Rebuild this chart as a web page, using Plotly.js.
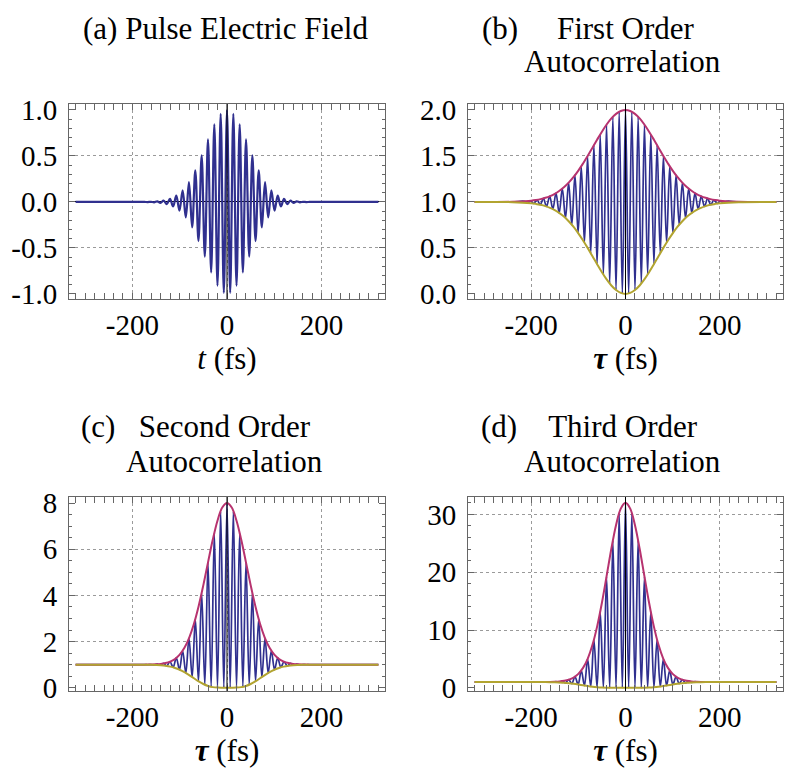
<!DOCTYPE html>
<html><head><meta charset="utf-8">
<script src="https://cdn.plot.ly/plotly-3.0.1.min.js"></script>
<style>html,body{margin:0;padding:0;background:#fff}#chart{width:800px;height:783px}</style>
</head><body><div id="chart"></div>
<script>
// fringe extrema delays (fs), shared by all four panels
const tauExtrema = [-320, -240, -214.4, -207.7, -201, -194.3, -187.6, -180.9, -174.2, -167.5, -160.8, -154.1, -147.4, -140.7, -134, -127.3, -120.6, -113.9, -107.2, -100.5, -93.8, -87.1, -80.4, -73.7, -67, -60.3, -53.6, -46.9, -40.2, -33.5, -26.8, -20.1, -13.4, -6.7, 0, 6.7, 13.4, 20.1, 26.8, 33.5, 40.2, 46.9, 53.6, 60.3, 67, 73.7, 80.4, 87.1, 93.8, 100.5, 107.2, 113.9, 120.6, 127.3, 134, 140.7, 147.4, 154.1, 160.8, 167.5, 174.2, 180.9, 187.6, 194.3, 201, 207.7, 214.4, 240, 320];

// (a) pulse electric field, value at each extremum
const fieldA = [0, 0, 0, 0, 0, 0, 0, 0, 0, -0.001, 0.002, -0.004, 0.006, -0.01, 0.015, -0.023, 0.033, -0.048, 0.068, -0.094, 0.126, -0.168, 0.215, -0.277, 0.345, -0.425, 0.507, -0.594, 0.68, -0.765, 0.845, -0.91, 0.958, -0.988, 1.0, -0.988, 0.958, -0.91, 0.845, -0.765, 0.68, -0.594, 0.507, -0.425, 0.345, -0.277, 0.215, -0.168, 0.126, -0.094, 0.068, -0.048, 0.033, -0.023, 0.015, -0.01, 0.006, -0.004, 0.002, -0.001, 0, 0, 0, 0, 0, 0, 0, 0, 0];

// (b) first order autocorrelation fringes
const fringeB = [1, 1, 1.007, 0.990, 1.013, 0.983, 1.023, 0.970, 1.038, 0.951, 1.062, 0.922, 1.097, 0.881, 1.145, 0.825, 1.209, 0.752, 1.291, 0.662, 1.388, 0.558, 1.499, 0.442, 1.617, 0.324, 1.734, 0.211, 1.840, 0.114, 1.926, 0.042, 1.981, 0.005, 2.0, 0.005, 1.981, 0.042, 1.926, 0.114, 1.840, 0.211, 1.734, 0.324, 1.617, 0.442, 1.499, 0.558, 1.388, 0.662, 1.291, 0.752, 1.209, 0.825, 1.145, 0.881, 1.097, 0.922, 1.062, 0.951, 1.038, 0.970, 1.023, 0.983, 1.013, 0.990, 1.007, 1, 1];

// (c) second order autocorrelation fringes
const fringeC = [1, 1, 1, 1, 1, 1, 1, 1, 1.002, 0.997, 1.006, 0.99, 1.02, 0.976, 1.053, 0.944, 1.129, 0.884, 1.291, 0.784, 1.603, 0.639, 2.143, 0.462, 2.974, 0.281, 4.102, 0.133, 5.421, 0.042, 6.704, 0.006, 7.65, 0.0, 8, 0.0, 7.65, 0.006, 6.704, 0.042, 5.421, 0.133, 4.102, 0.281, 2.974, 0.462, 2.143, 0.639, 1.603, 0.784, 1.291, 0.884, 1.129, 0.944, 1.053, 0.976, 1.02, 0.99, 1.006, 0.997, 1.002, 1, 1, 1, 1, 1, 1, 1, 1];

// (d) third order autocorrelation fringes
const fringeD = [1, 1, 1, 1, 1, 1, 1.003, 0.995, 1.01, 0.985, 1.027, 0.964, 1.069, 0.925, 1.171, 0.851, 1.41, 0.735, 1.93, 0.576, 3.0, 0.395, 4.99, 0.224, 8.31, 0.098, 13.18, 0.031, 19.25, 0.005, 25.47, 0, 30.21, 0, 32, 0, 30.21, 0, 25.47, 0.005, 19.25, 0.031, 13.18, 0.098, 8.31, 0.224, 4.99, 0.395, 3.0, 0.576, 1.93, 0.735, 1.41, 0.851, 1.171, 0.925, 1.069, 0.964, 1.027, 0.985, 1.01, 0.995, 1.003, 1, 1, 1, 1, 1, 1];

// envelope delays (fs)
const tauEnv = [-320, -240, -200, -190, -180, -170, -160, -150, -140, -130, -120, -110, -100, -90, -80, -70, -60, -50, -40, -30, -20, -10, 0, 10, 20, 30, 40, 50, 60, 70, 80, 90, 100, 110, 120, 130, 140, 150, 160, 170, 180, 190, 200, 240, 320];

const upperB = [1.0, 1.002, 1.014, 1.021, 1.031, 1.045, 1.064, 1.089, 1.122, 1.162, 1.213, 1.272, 1.341, 1.419, 1.502, 1.590, 1.679, 1.764, 1.842, 1.908, 1.958, 1.989, 2.0, 1.989, 1.958, 1.908, 1.842, 1.764, 1.679, 1.590, 1.502, 1.419, 1.341, 1.272, 1.213, 1.162, 1.122, 1.089, 1.064, 1.045, 1.031, 1.021, 1.014, 1.002, 1.0];
const lowerB = [1.0, 0.998, 0.986, 0.979, 0.969, 0.955, 0.936, 0.911, 0.878, 0.838, 0.787, 0.728, 0.659, 0.581, 0.498, 0.410, 0.321, 0.236, 0.158, 0.092, 0.042, 0.011, 0.0, 0.011, 0.042, 0.092, 0.158, 0.236, 0.321, 0.410, 0.498, 0.581, 0.659, 0.728, 0.787, 0.838, 0.878, 0.911, 0.936, 0.955, 0.969, 0.979, 0.986, 0.998, 1.0];

const upperC = [1, 1, 1, 1, 1.001, 1.003, 1.007, 1.016, 1.034, 1.069, 1.134, 1.247, 1.435, 1.730, 2.164, 2.761, 3.530, 4.445, 5.441, 6.416, 7.245, 7.803, 8, 7.803, 7.245, 6.416, 5.441, 4.445, 3.530, 2.761, 2.164, 1.730, 1.435, 1.247, 1.134, 1.069, 1.034, 1.016, 1.007, 1.003, 1.001, 1, 1, 1, 1];
const lowerC = [1, 1, 1, 1, 0.999, 0.997, 0.993, 0.986, 0.975, 0.953, 0.916, 0.859, 0.779, 0.674, 0.548, 0.411, 0.278, 0.163, 0.079, 0.028, 0.007, 0.001, 0, 0.001, 0.007, 0.028, 0.079, 0.163, 0.278, 0.411, 0.548, 0.674, 0.779, 0.859, 0.916, 0.953, 0.975, 0.986, 0.993, 0.997, 0.999, 1, 1, 1, 1];

const upperD = [1, 1, 1.001, 1.003, 1.006, 1.013, 1.028, 1.058, 1.114, 1.223, 1.425, 1.787, 2.413, 3.448, 5.063, 7.435, 10.67, 14.72, 19.35, 24.05, 28.17, 30.99, 32, 30.99, 28.17, 24.05, 19.35, 14.72, 10.67, 7.435, 5.063, 3.448, 2.413, 1.787, 1.425, 1.223, 1.114, 1.058, 1.028, 1.013, 1.006, 1.003, 1.001, 1, 1];
const lowerD = [1, 1, 1, 0.998, 0.995, 0.989, 0.978, 0.958, 0.922, 0.869, 0.793, 0.693, 0.569, 0.434, 0.301, 0.185, 0.097, 0.041, 0.013, 0.002, 0, 0, 0, 0, 0, 0.002, 0.013, 0.041, 0.097, 0.185, 0.301, 0.434, 0.569, 0.693, 0.793, 0.869, 0.922, 0.958, 0.978, 0.989, 0.995, 0.998, 1, 1, 1];

// ticks and labels
const xTickVals = [-200, 0, 200];
const xTickText = ['-200', '0', '200'];
const yTickValsA = [-1, -0.5, 0, 0.5, 1];
const yTickTextA = ['-1.0', '-0.5', '0.0', '0.5', '1.0'];
const yTickValsB = [0, 0.5, 1, 1.5, 2];
const yTickTextB = ['0.0', '0.5', '1.0', '1.5', '2.0'];
const yTickValsC = [0, 2, 4, 6, 8];
const yTickTextC = ['0', '2', '4', '6', '8'];
const yTickValsD = [0, 10, 20, 30];
const yTickTextD = ['0', '10', '20', '30'];
const gridA = [-0.5, 0, 0.5];
const gridB = [0.5, 1, 1.5];
const gridC = [2, 4, 6];
const gridD = [10, 20, 30];

const titleLines = {
  a: ['(a) Pulse Electric Field'],
  b: ['(b)\u00a0\u00a0\u00a0\u00a0\u00a0First Order', 'Autocorrelation'],
  c: ['(c)\u00a0\u00a0\u00a0Second Order', 'Autocorrelation'],
  d: ['(d)\u00a0\u00a0\u00a0\u00a0Third Order', 'Autocorrelation']
};
const xTitleA = '<i>t</i> (fs)';
const xTitleTau = '<b><i>τ</i></b> (fs)';

const BLUE = '#30308f', MAG = '#b7336f', YEL = '#b2a430';
const FONT = '"Liberation Serif", "Times New Roman", Times, serif';
const W = 800, H = 783;

function fringe(x, y, xa, ya, w) {
  return {x: x, y: y, xaxis: xa, yaxis: ya, type: 'scatter', mode: 'lines',
    line: {color: BLUE, width: w, shape: 'spline', smoothing: 1}, hoverinfo: 'skip', showlegend: false};
}
function env(x, y, xa, ya, c) {
  return {x: x, y: y, xaxis: xa, yaxis: ya, type: 'scatter', mode: 'lines',
    line: {color: c, width: 2, shape: 'spline', smoothing: 1}, hoverinfo: 'skip', showlegend: false};
}
function dummy(xa, ya) { return {x: [], y: [], xaxis: xa, yaxis: ya, type: 'scatter', showlegend: false, hoverinfo: 'skip'}; }

const data = [
  fringe(tauExtrema, fieldA, 'x', 'y', 2.2),
  fringe(tauExtrema, fringeB, 'x2', 'y2', 1.7),
  env(tauEnv, upperB, 'x2', 'y2', MAG), env(tauEnv, lowerB, 'x2', 'y2', YEL),
  fringe(tauExtrema, fringeC, 'x3', 'y3', 1.7),
  env(tauEnv, upperC, 'x3', 'y3', MAG), env(tauEnv, lowerC, 'x3', 'y3', YEL),
  fringe(tauExtrema, fringeD, 'x4', 'y4', 1.7),
  env(tauEnv, upperD, 'x4', 'y4', MAG), env(tauEnv, lowerD, 'x4', 'y4', YEL),
  dummy('x', 'y5'), dummy('x2', 'y6'), dummy('x3', 'y7'), dummy('x4', 'y8')
];

const px = v => v / W, py = v => 1 - v / H;
const FRAME = '#666';

function xAxis(dom, anchor, title) {
  return {domain: dom, anchor: anchor, range: [-334, 334], tickmode: 'array', tickvals: xTickVals, ticktext: xTickText,
    ticks: 'inside', ticklen: 6, tickcolor: FRAME, tickwidth: 1, showline: true, linecolor: FRAME, linewidth: 1, mirror: 'allticks',
    showgrid: true, gridcolor: '#9a9a9a', griddash: 'dot', gridwidth: 1, zeroline: false, automargin: false,
    minor: {ticks: 'inside', ticklen: 3, dtick: 20, tick0: 0, tickcolor: FRAME, showgrid: false},
    tickfont: {family: FONT, size: 29, color: '#000'}, ticklabelstandoff: 0,
    title: {text: title, font: {family: FONT, size: 31, color: '#000'}, standoff: 0}, fixedrange: true};
}
function yAxis(dom, anchor, range, vals, text, minor, zl) {
  return {domain: dom, anchor: anchor, range: range, tickmode: 'array', tickvals: vals, ticktext: text,
    ticks: 'inside', ticklen: 6, tickcolor: FRAME, tickwidth: 1, showline: true, linecolor: FRAME, linewidth: 1, mirror: 'allticks',
    showgrid: false, zeroline: !!zl, zerolinecolor: '#000', zerolinewidth: 1, automargin: false,
    minor: {ticks: 'inside', ticklen: 3, dtick: minor, tick0: 0, tickcolor: FRAME, showgrid: false},
    tickfont: {family: FONT, size: 29, color: '#000'}, ticklabelstandoff: 5, fixedrange: true};
}
function gridAxis(over, anchor, range, vals) {
  return {overlaying: over, anchor: anchor, range: range, tickmode: 'array', tickvals: vals, showticklabels: false, ticks: '',
    showgrid: true, gridcolor: '#9a9a9a', griddash: 'dot', gridwidth: 1, zeroline: false, showline: false, automargin: false, fixedrange: true};
}

const domXa = [px(69), px(385)], domXb = [px(468), px(783)];
const domYtop = [py(299), py(104)], domYbot = [py(691), py(497)];
const rA = [-1.055, 1.065], rB = [-0.055, 2.065], rC = [-0.14, 8.26], rD = [-0.55, 33];

const axisOrigin = 0;
function vline(xa, ya) {
  return {type: 'line', xref: xa, yref: ya + ' domain', x0: axisOrigin, x1: axisOrigin, y0: 0, y1: 1, layer: 'above', line: {color: '#000', width: 1}};
}

function ann(text, x, y) {
  return {text: text, x: px(x), y: py(y), xref: 'paper', yref: 'paper', xanchor: 'center', yanchor: 'middle', showarrow: false,
    font: {family: FONT, size: 31, color: '#000'}};
}

const layout = {
  width: W, height: H, margin: {l: 0, r: 0, t: 0, b: 0}, paper_bgcolor: '#fff', plot_bgcolor: '#fff', showlegend: false,
  xaxis: xAxis(domXa, 'y', xTitleA),
  xaxis2: xAxis(domXb, 'y2', xTitleTau),
  xaxis3: xAxis(domXa, 'y3', xTitleTau),
  xaxis4: xAxis(domXb, 'y4', xTitleTau),
  yaxis: yAxis(domYtop, 'x', rA, yTickValsA, yTickTextA, 0.1, true),
  yaxis2: yAxis(domYtop, 'x2', rB, yTickValsB, yTickTextB, 0.1),
  yaxis3: yAxis(domYbot, 'x3', rC, yTickValsC, yTickTextC, 0.5),
  yaxis4: yAxis(domYbot, 'x4', rD, yTickValsD, yTickTextD, 2),
  yaxis5: gridAxis('y', 'x', rA, gridA),
  yaxis6: gridAxis('y2', 'x2', rB, gridB),
  yaxis7: gridAxis('y3', 'x3', rC, gridC),
  yaxis8: gridAxis('y4', 'x4', rD, gridD),
  shapes: [vline('x', 'y'), vline('x2', 'y2'), vline('x3', 'y3'), vline('x4', 'y4')],
  annotations: [
    ann(titleLines.a[0], 225, 28),
    ann(titleLines.b[0], 588, 28), ann(titleLines.b[1], 622, 62),
    ann(titleLines.c[0], 196, 426), ann(titleLines.c[1], 224, 461),
    ann(titleLines.d[0], 589, 426), ann(titleLines.d[1], 622, 461)
  ]
};

Plotly.newPlot('chart', data, layout, {displayModeBar: false, staticPlot: true});
</script></body></html>
